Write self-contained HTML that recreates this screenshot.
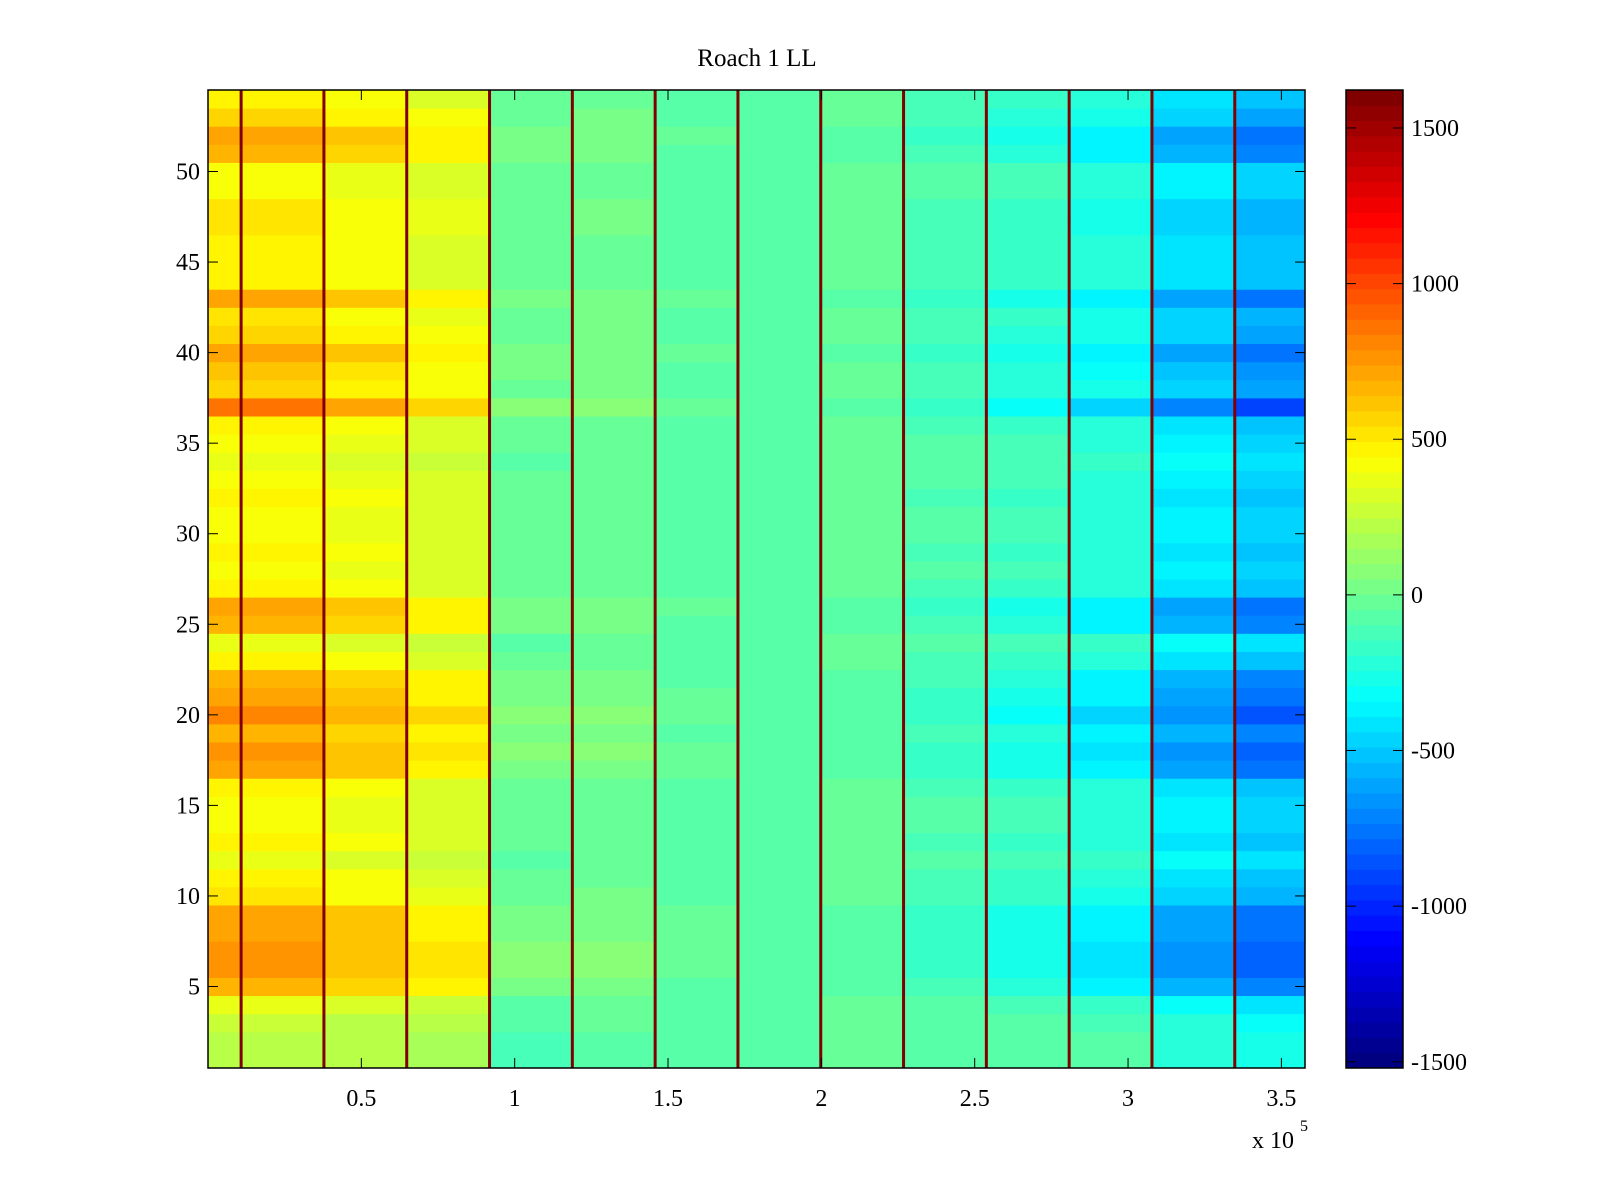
<!DOCTYPE html>
<html><head><meta charset="utf-8"><style>
body{margin:0;background:#fff;}
svg{display:block;font-family:"Liberation Serif",serif;}
</style></head><body>
<svg id="chart" width="1600" height="1200" viewBox="0 0 1600 1200" xmlns="http://www.w3.org/2000/svg">
<rect width="1600" height="1200" fill="#fff"/>
<text x="757" y="66" font-size="25" text-anchor="middle">Roach 1 LL</text>
<g id="cells"></g>
<g id="lines"></g>
<rect x="208" y="90" width="1097" height="978" fill="none" stroke="#000" stroke-width="1.5"/>
<g id="axes"></g>
<g id="cbar"></g>
<text x="1252" y="1148" font-size="24">x 10</text>
<text x="1300" y="1131" font-size="16">5</text>
</svg>
<script>
// ---- data ----
const rowIndex = Array.from({length:54},(_,i)=>i+1);
const segmentEdges = [0,10800,37800,64800,91800,118800,145800,172800,199800,226800,253800,280800,307800,334800,357700];
const segmentMean = [380,360,320,280,-60,-20,-80,-80,-20,-80,-120,-170,-320,-420];
const segmentGain = [1,1,0.8,0.6,0.3,0.2,0.1,0,-0.1,-0.2,-0.4,-0.6,-0.8,-1];
const rowEffect = [-150,-150,-100,0,300,400,400,350,350,150,100,0,100,50,50,100,350,400,300,450,350,300,100,0,300,350,100,50,100,50,50,100,50,0,50,100,500,200,250,350,200,150,350,100,100,100,150,150,50,50,300,350,200,100];
const spikeX = [10800,37800,64800,91800,118800,145800,172800,199800,226800,253800,280800,307800,334800];
const spikeValue = 1620;
const xTicks = [0.5,1,1.5,2,2.5,3,3.5];
const yTicks = [5,10,15,20,25,30,35,40,45,50];
const cbTicks = [-1500,-1000,-500,0,500,1000,1500];
const cMin=-1520, cMax=1622;

// ---- scales ----
const X0=208,X1=1305,Y0=90,Y1=1068;
const xs=v=>X0+v/357700*(X1-X0);
const ys=v=>Y0+(54.5-v)/54*(Y1-Y0);
function jet(t){
  t=Math.max(0,Math.min(1,t));
  t=Math.floor(t*63.999)/63;
  const f=x=>Math.round(255*Math.max(0,Math.min(1,1.5-Math.abs(4*t-x))));
  return `rgb(${f(3)},${f(2)},${f(1)})`;
}
const col=v=>jet((v-cMin)/(cMax-cMin));
const NS="http://www.w3.org/2000/svg";
function mk(tag,attrs,parent){const e=document.createElementNS(NS,tag);for(const k in attrs)e.setAttribute(k,attrs[k]);parent.appendChild(e);return e;}

// ---- cells ----
const cells=document.getElementById('cells');
rowIndex.forEach((r,ri)=>{
  for(let c=0;c<segmentMean.length;c++){
    const v=segmentMean[c]+rowEffect[ri]*segmentGain[c];
    const x=xs(segmentEdges[c]), w=xs(segmentEdges[c+1])-x;
    const y=ys(r+0.5);
    const e=mk('rect',{x:x,y:y,width:w+0.5,height:(Y1-Y0)/54+0.5,fill:col(v)},cells);
    
    
  }
});
const lines=document.getElementById('lines');
spikeX.forEach(s=>{
  const e=mk('rect',{x:xs(s)-1.5,y:Y0,width:3,height:Y1-Y0,fill:col(spikeValue)},lines);
  
  
});

// ---- axes ----
const axes=document.getElementById('axes');
xTicks.forEach(t=>{
  const x=xs(t*1e5);
  mk('line',{x1:x,x2:x,y1:Y1,y2:Y1-10,stroke:'#000'},axes);
  mk('line',{x1:x,x2:x,y1:Y0,y2:Y0+10,stroke:'#000'},axes);
  const e=mk('text',{x:x,y:Y1+38,'font-size':24,'text-anchor':'middle'},axes);
  e.textContent=String(t);
  
  
});
yTicks.forEach(t=>{
  const y=ys(t);
  mk('line',{x1:X0,x2:X0+10,y1:y,y2:y,stroke:'#000'},axes);
  mk('line',{x1:X1,x2:X1-10,y1:y,y2:y,stroke:'#000'},axes);
  const e=mk('text',{x:X0-8,y:y+8,'font-size':24,'text-anchor':'end'},axes);
  e.textContent=String(t);
  
  
});

// ---- colorbar ----
const cb=document.getElementById('cbar');
const CX0=1346,CX1=1403;
const cy=v=>Y1-(v-cMin)/(cMax-cMin)*(Y1-Y0);
for(let i=0;i<64;i++){
  const v0=cMin+i/64*(cMax-cMin), v1=cMin+(i+1)/64*(cMax-cMin);
  mk('rect',{x:CX0,y:cy(v1),width:CX1-CX0,height:cy(v0)-cy(v1)+0.5,fill:jet((i+0.5)/64)},cb);
}
mk('rect',{x:CX0,y:Y0,width:CX1-CX0,height:Y1-Y0,fill:'none',stroke:'#000','stroke-width':1.5},cb);
cbTicks.forEach(t=>{
  const y=cy(t);
  mk('line',{x1:CX0,x2:CX0+10,y1:y,y2:y,stroke:'#000'},cb);
  mk('line',{x1:CX1,x2:CX1-10,y1:y,y2:y,stroke:'#000'},cb);
  const e=mk('text',{x:CX1+8,y:y+8,'font-size':24},cb);
  e.textContent=String(t);
  
  
});
</script>
</body></html>
